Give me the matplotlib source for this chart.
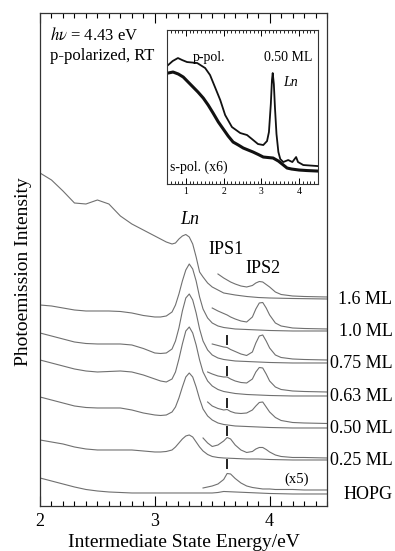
import numpy as np
import matplotlib
matplotlib.use("Agg")
import matplotlib.pyplot as plt
from matplotlib.ticker import MultipleLocator

plt.rcParams['font.family'] = ['Liberation Serif', 'DejaVu Serif']
plt.rcParams['mathtext.fontset'] = 'stix'

# ---- main panel data (intensity above each trace's own baseline) ----
energy = [2.0, 2.1, 2.2, 2.3, 2.4, 2.5, 2.6, 2.7, 2.8, 2.9, 3.0, 3.05, 3.1, 3.15, 3.18,
          3.21, 3.24, 3.27, 3.3, 3.33, 3.36, 3.39, 3.42, 3.46, 3.5, 3.55, 3.6, 3.7,
          3.8, 3.9, 4.0, 4.2, 4.5]

cov_labels = ["1.6 ML", "1.0 ML", "0.75 ML", "0.63 ML", "0.50 ML", "0.25 ML", "HOPG"]
baselines = [207, 175, 143, 110, 78, 46, 12]

main_16 = [126, 119, 108, 96, 95, 99, 95, 83, 75, 69, 63, 60, 57, 55, 56,
           60, 63, 64.5, 62, 55, 42, 27, 22, 16, 12, 9, 6, 4,
           2.5, 1.5, 1, 0.5, 0]
main_10 = [26, 25, 23, 21, 20, 20, 20, 19.5, 18, 15.5, 14, 14, 15, 19, 26,
           37, 50, 61, 67, 62, 50, 34, 22, 13, 8, 5, 3.5, 2,
           1.5, 1, 0.5, 0, 0]
main_075 = [30, 27, 24, 21, 19.5, 19, 19, 19, 18, 14.5, 10, 9.5, 10, 14, 22,
            35, 52, 65, 69, 63, 50, 34, 22, 13, 8, 5, 3.5, 2,
            1.5, 1, 0.5, 0, 0]
main_063 = [36, 33, 30, 27, 25, 24, 24.5, 25, 24, 21, 17, 15, 14, 17, 24,
            37, 52, 65, 69, 63, 51, 36, 24, 15, 10, 6.5, 4.5, 2.5,
            1.5, 1, 0.5, 0, 0]
main_050 = [31, 28, 25, 22, 20.5, 20, 20, 20, 18, 15, 13, 12.5, 13, 16, 21,
            30, 41, 51, 55, 51, 41, 29, 19, 12, 8, 5, 3.5, 2,
            1.5, 1, 0.5, 0, 0]
main_025 = [20, 18, 16, 13, 11, 10, 10, 10, 10, 9, 8, 8, 8.5, 10, 13,
            17, 21, 24, 25, 23, 18, 13, 9, 5.5, 3.5, 2.5, 2, 1.5,
            1, 1, 0.5, 0, 0]
main_hopg = [16, 13, 10, 7, 4.5, 3, 2, 1.5, 1, 1, 1, 1, 1, 1, 1,
             1, 1, 1, 1, 1, 1, 1, 1, 1, 1, 1.5, 2.5, 2,
             1.5, 1, 0.5, 0, 0]

# magnified IPS region traces
seg_energy = [3.42, 3.46, 3.5, 3.55, 3.6, 3.63, 3.66, 3.7, 3.75, 3.8, 3.85, 3.88,
              3.91, 3.94, 3.97, 4.0, 4.05, 4.1, 4.2, 4.3, 4.5]
nan = np.nan
seg_16 = [nan, nan, nan, 25, 21, 19, 17, 15, 13, 12, 13.5, 16,
          17.5, 17, 14.5, 12, 7, 4.5, 3, 2.5, 2]
seg_10 = [nan, nan, 23, 20, 17.5, 16, 14, 12, 10, 9, 14, 22,
          28, 28.5, 23, 16, 8, 5, 3, 2.5, 2]
seg_075 = [nan, nan, 19, 17.5, 16, 15.5, 13.5, 11.5, 9, 7.5, 11, 20,
           27, 28, 22, 15, 8, 5.5, 4, 3.5, 3]
seg_063 = [nan, 24, 22, 20, 19, 19, 17, 15, 13.5, 13, 17, 24,
           28.5, 28, 22, 15, 9, 6.5, 5, 4.5, 4]
seg_050 = [nan, 26, 22, 19.5, 18, 18.5, 16.5, 15, 14.5, 15, 18, 22,
           25.5, 26, 21, 16, 10.5, 7.5, 5.5, 5, 4.5]
seg_025 = [22, 17, 13.5, 15, 19, 22.5, 21, 15, 10, 7.5, 8.5, 11,
           12.5, 12.5, 10.5, 8, 5, 3.5, 2.5, 2.5, 2]
seg_hopg_x5 = [6, 7, 8, 10, 14.5, 20.5, 20, 15.5, 11, 8, 6.5, 6,
               5.5, 5, 5, 5, 4.5, 4.5, 4.5, 4, 4]

ips1_energy = 3.63
ips1_mark_bottom = [nan, nan, 19, 21, 21, 25, 26]   # per coverage, above baseline

# ---- inset data (0.50 ML) ----
inset_p_energy = [0.53, 0.65, 0.79, 0.9, 1.03, 1.3, 1.51, 1.64, 1.77, 1.91, 2.04, 2.22,
                  2.44, 2.62, 2.75, 2.91, 3.05, 3.15, 3.2, 3.25, 3.28, 3.3, 3.33, 3.36,
                  3.4, 3.45, 3.5, 3.58, 3.71, 3.82, 3.92, 3.97, 4.11, 4.48]
inset_p = [119, 123, 126, 124, 122, 121, 116, 109, 97, 84, 69, 57,
           51, 49, 45, 40, 39, 43, 52, 80, 104, 111, 100, 76,
           50, 32, 25, 22, 24, 22, 27, 22, 19, 18]
inset_s_energy = [0.53, 0.66, 0.8, 0.93, 1.06, 1.19, 1.32, 1.46, 1.59, 1.72, 1.86, 1.99,
                  2.12, 2.25, 2.39, 2.52, 2.65, 2.78, 2.92, 3.05, 3.18, 3.31, 3.45, 3.55,
                  3.68, 3.8, 4.0, 4.2, 4.48]
inset_s = [111, 112, 110, 107, 102, 97, 92, 86, 79, 71, 62, 55,
           48, 42, 39, 36, 34, 32, 29.5, 27, 26.5, 26, 23, 20,
           16, 15, 14, 13.5, 13]

main_traces = [main_16, main_10, main_075, main_063, main_050, main_025, main_hopg]
seg_traces = [seg_16, seg_10, seg_075, seg_063, seg_050, seg_025, seg_hopg_x5]

line_col = '#707070'
fig = plt.figure(figsize=(3.95, 5.51), dpi=100)
ax = fig.add_axes([0.1013, 0.0817, 0.7266, 0.8947])

for base, tr, seg, lab, mk in zip(baselines, main_traces, seg_traces, cov_labels, ips1_mark_bottom):
    ax.plot(energy, np.array(tr) + base, color=line_col, lw=0.8)
    ax.plot(seg_energy, np.array(seg) + base, color=line_col, lw=0.8)
    if not np.isnan(mk):
        ax.plot([ips1_energy, ips1_energy], [base + mk, base + mk + 8], color='#222222', lw=1.4)
    ax.text(5.07, base - 1, lab, ha='right', va='center', fontsize=13, clip_on=False)

ax.set_xlim(2, 4.5)
ax.set_ylim(0, 493)
ax.set_yticks([])
ax.xaxis.set_major_locator(MultipleLocator(1))
ax.xaxis.set_minor_locator(MultipleLocator(0.1))
ax.tick_params(axis='x', which='both', direction='in', top=True, labelsize=13, pad=5)
ax.tick_params(axis='x', which='major', length=7, width=0.8)
ax.tick_params(axis='x', which='minor', length=3.5, width=0.8)
for s in ax.spines.values():
    s.set_linewidth(0.9)
    s.set_color('#333333')
ax.set_xlabel('Intermediate State Energy/eV', fontsize=14, labelpad=3)
ax.set_ylabel('Photoemission Intensity', fontsize=14)
ax.yaxis.set_label_coords(-0.028, 0.475)

ax.text(2.087, 471, r'$h\nu$ = 4.43 eV', fontsize=12, va='center')
ax.text(2.087, 450, 'p-polarized, RT', fontsize=12, va='center')
ax.text(3.30, 286, 'Ln', fontsize=13, style='italic', ha='center', va='center')
ax.text(3.62, 256, 'IPS1', fontsize=13, ha='center', va='center')
ax.text(3.94, 237, 'IPS2', fontsize=13, ha='center', va='center')
ax.text(4.235, 27, '(x5)', fontsize=10.5, ha='center', va='center')

# inset
ins = fig.add_axes([0.4228, 0.666, 0.3823, 0.2795])
ins.plot(inset_p_energy, inset_p, color='#111111', lw=1.3)
ins.plot(inset_s_energy, inset_s, color='#111111', lw=2.2)
ins.set_xlim(0.5, 4.5)
ins.set_ylim(0, 154)
ins.set_yticks([])
ins.xaxis.set_major_locator(MultipleLocator(1))
ins.xaxis.set_minor_locator(MultipleLocator(0.1))
ins.tick_params(axis='x', which='both', direction='in', top=True, labelsize=7, pad=2)
ins.tick_params(axis='x', which='major', length=4, width=0.7)
ins.tick_params(axis='x', which='minor', length=2.2, width=0.6)
for s in ins.spines.values():
    s.set_linewidth(0.8)
    s.set_color('#333333')
ins.text(1.61, 127, 'p-pol.', fontsize=10, ha='center', va='center')
ins.text(4.35, 127, '0.50 ML', fontsize=10, ha='right', va='center')
ins.text(3.76, 102, 'Ln', fontsize=10, style='italic', ha='center', va='center')
ins.text(0.58, 17, 's-pol. (x6)', fontsize=10, ha='left', va='center')

fig.savefig('out.png', dpi=100)
